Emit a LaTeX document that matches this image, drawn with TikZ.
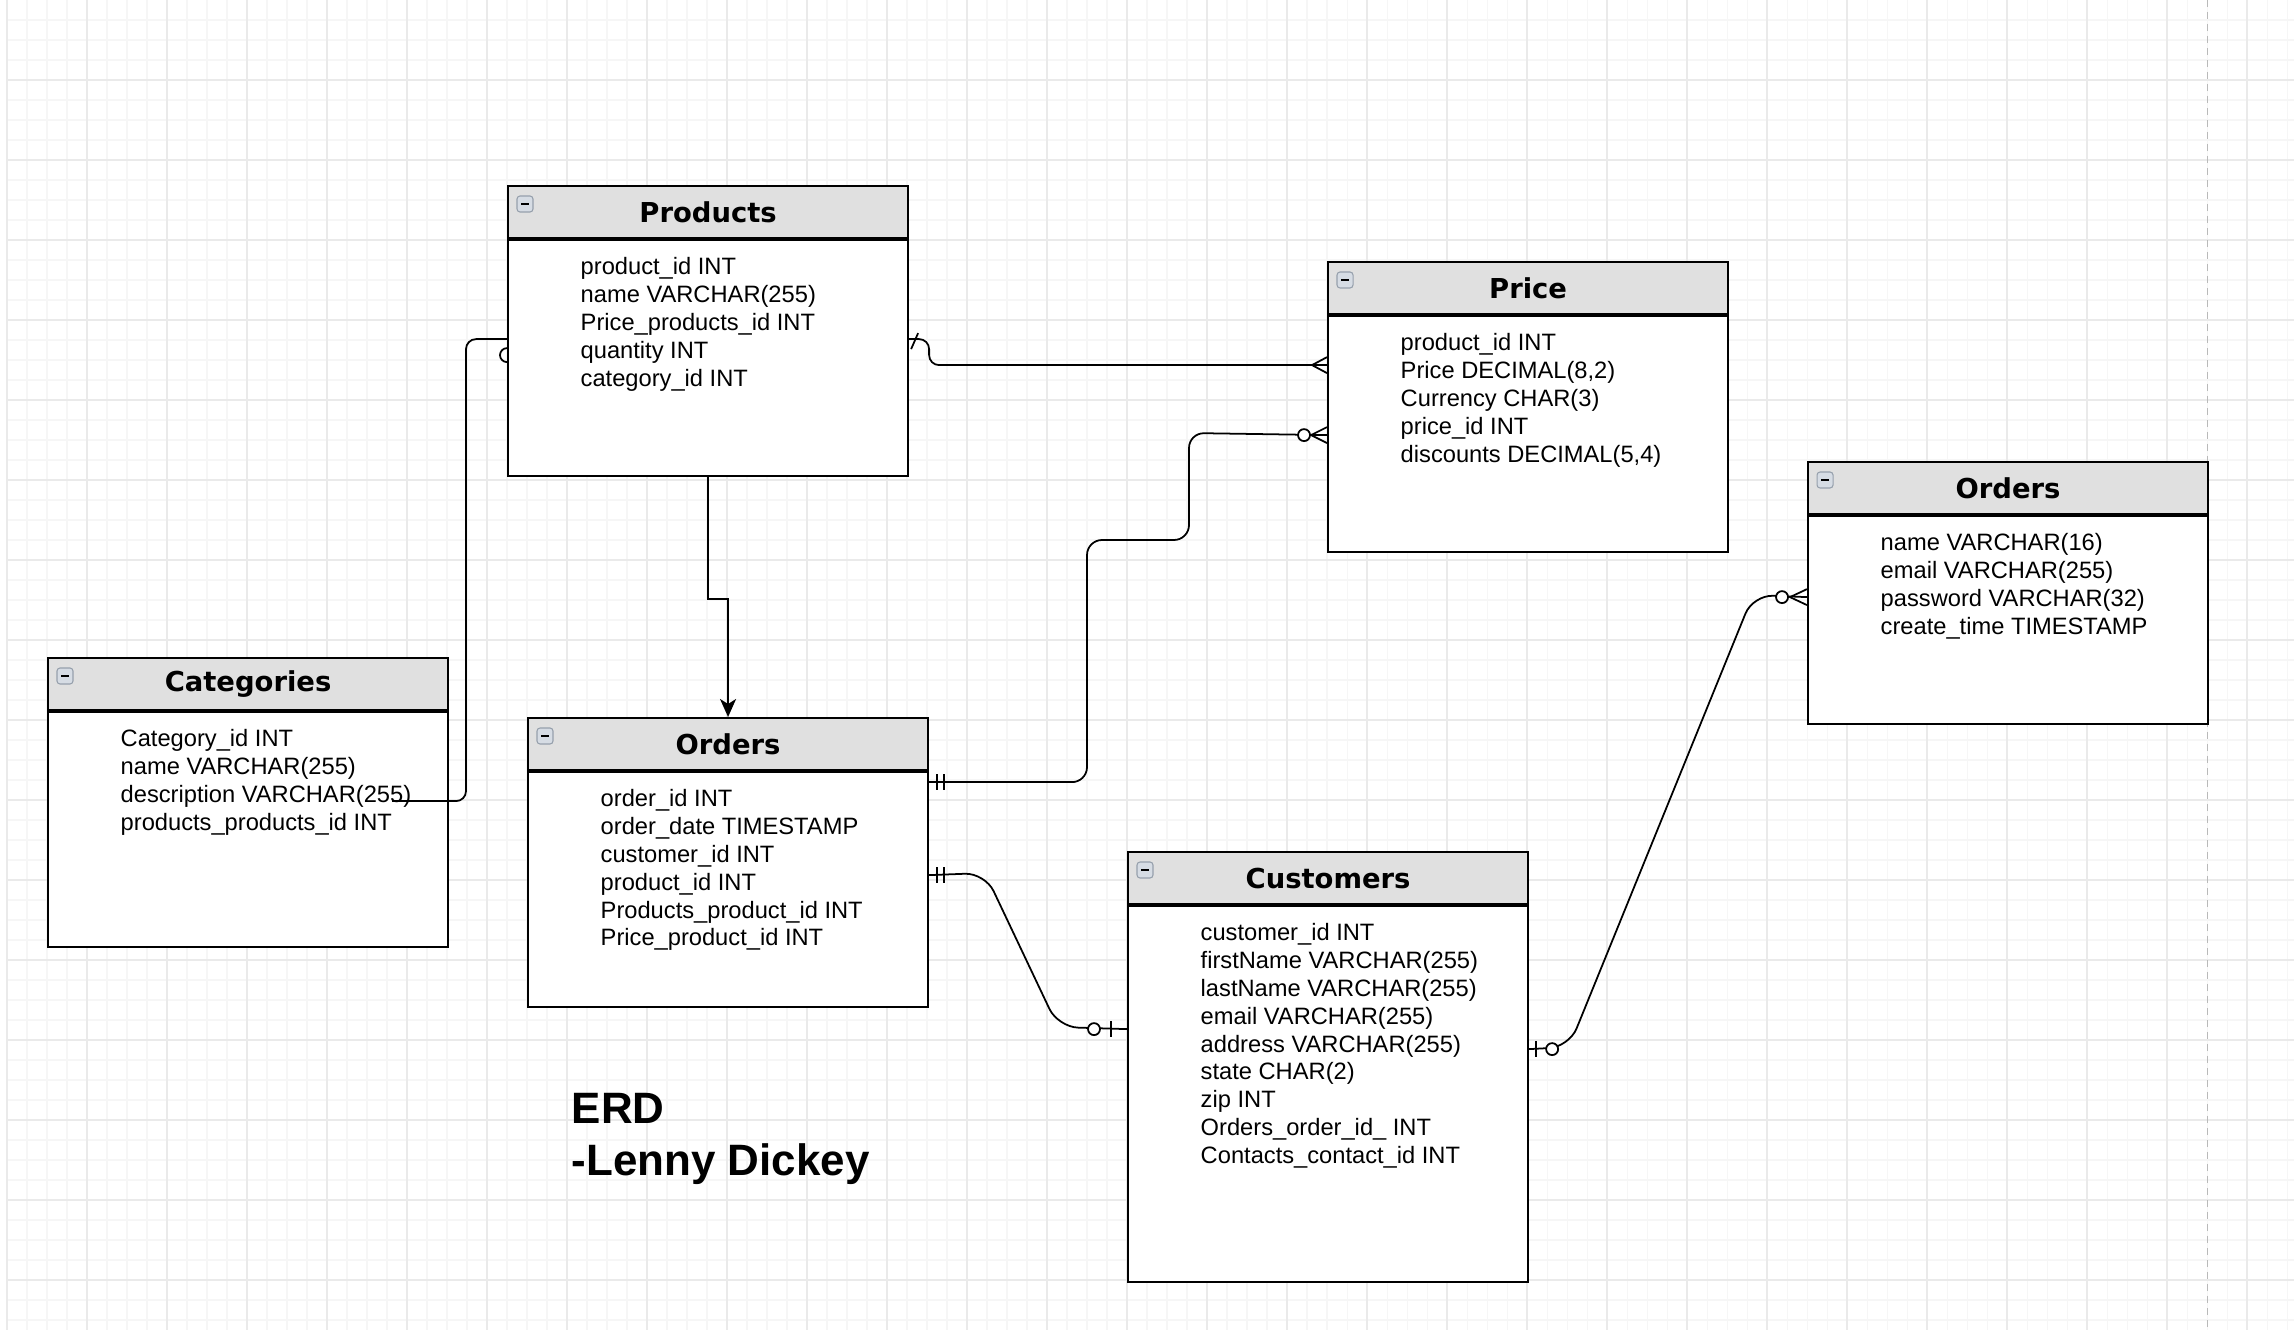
\documentclass[tikz,border=0pt]{standalone}
\usepackage{fontspec}
\setmainfont{Liberation Sans}
\newfontfamily\headfont{DejaVu Sans}
\usetikzlibrary{arrows.meta, positioning, calc}
\usepackage{xcolor}
\definecolor{headGray}{RGB}{224,224,224}
\definecolor{gridMinor}{RGB}{246,246,246}
\definecolor{gridMajor}{RGB}{234,234,234}
\definecolor{pageEdge}{RGB}{185,185,185}
\definecolor{iconFill}{RGB}{214,220,228}
\definecolor{iconLine}{RGB}{150,160,172}

\begin{document}
\begin{tikzpicture}[
    x=0.1mm, y=-0.1mm,
    tblhead/.style={rectangle, draw, line width=0.6pt, fill=headGray, anchor=north west, minimum width=40mm, minimum height=5.2mm, inner sep=0pt, font=\headfont\bfseries\fontsize{7.8}{9}\selectfont},
    tblbody/.style={rectangle, draw, line width=0.6pt, fill=white, minimum width=40mm, inner sep=0pt},
    attr/.style={anchor=north west, align=left, inner sep=0pt, font=\fontsize{6.74}{7.91}\selectfont},
    minusbox/.style={rectangle, draw=iconLine, fill=iconFill, rounded corners=0.3mm, minimum size=1.6mm, inner sep=0pt, line width=0.3pt},
    conn/.style={line width=0.5pt, rounded corners=1mm},
    arrow/.style={-{Stealth[length=1.8mm, width=1.6mm, inset=0.5mm]}, line width=0.55pt},
    endmark/.style={line width=0.5pt}
]
\useasboundingbox (0,0) rectangle (2294,1330);

% Background grid
\fill[white] (0,0) rectangle (2294,1330);
\foreach \gx in {7,27,...,2294} \draw[gridMinor, line width=0.3pt] (\gx,0) -- (\gx,1330);
\foreach \gy in {20,40,...,1330} \draw[gridMinor, line width=0.3pt] (7,\gy) -- (2294,\gy);
\foreach \gx in {7,87,...,2294} \draw[gridMajor, line width=0.4pt] (\gx,0) -- (\gx,1330);
\foreach \gy in {80,160,...,1330} \draw[gridMajor, line width=0.4pt] (7,\gy) -- (2294,\gy);
\draw[pageEdge, dash pattern=on 0.7mm off 0.5mm, line width=0.3pt] (2207,0) -- (2207,1330);

% Products
\node[tblhead] (prod) at (507,185) {Products};
\node[tblbody, minimum height=23.6mm, below=0pt of prod] (prodb) {};
\node[attr] at ($(prod.north west)+(73,72)$) {product\_id INT\\name VARCHAR(255)\\Price\_products\_id INT\\quantity INT\\category\_id INT};

% Price
\node[tblhead] (price) at (1327,261) {Price};
\node[tblbody, minimum height=23.6mm, below=0pt of price] (priceb) {};
\node[attr] at ($(price.north west)+(73,72)$) {product\_id INT\\Price DECIMAL(8,2)\\Currency CHAR(3)\\price\_id INT\\discounts DECIMAL(5,4)};

% Orders (users)
\node[tblhead] (ordr) at (1807,461) {Orders};
\node[tblbody, minimum height=20.8mm, below=0pt of ordr] (ordrb) {};
\node[attr] at ($(ordr.north west)+(73,72)$) {name VARCHAR(16)\\email VARCHAR(255)\\password VARCHAR(32)\\create\_time TIMESTAMP};

% Categories
\node[tblhead] (cat) at (47,657) {Categories};
\node[tblbody, minimum height=23.5mm, below=0pt of cat] (catb) {};
\node[attr] at ($(cat.north west)+(73,72)$) {Category\_id INT\\name VARCHAR(255)\\description VARCHAR(255)\\products\_products\_id INT};

% Orders
\node[tblhead] (ordm) at (527,717) {Orders};
\node[tblbody, minimum height=23.5mm, below=0pt of ordm] (ordmb) {};
\node[attr] at ($(ordm.north west)+(73,72)$) {order\_id INT\\order\_date TIMESTAMP\\customer\_id INT\\product\_id INT\\Products\_product\_id INT\\Price\_product\_id INT};

% Customers
\node[tblhead] (cust) at (1127,851) {Customers};
\node[tblbody, minimum height=37.6mm, below=0pt of cust] (custb) {};
\node[attr] at ($(cust.north west)+(73,72)$) {customer\_id INT\\firstName VARCHAR(255)\\lastName VARCHAR(255)\\email VARCHAR(255)\\address VARCHAR(255)\\state CHAR(2)\\zip INT\\Orders\_order\_id\_ INT\\Contacts\_contact\_id INT};

% Collapse icons
\foreach \t in {prod,price,ordr,cat,ordm,cust}
  \node[minusbox] at ($(\t.north west)+(18,19)$) {\rule{0.8mm}{0.25mm}};

% Categories to Products
\coordinate (catdesc) at ($(catb.north west)+(345,90)$);
\coordinate (prodin) at ($(prodb.north west)+(0,100)$);
\draw[conn] (catdesc) -| ($(prodin)+(-41,0)$) -- (prodin);
\draw[endmark] ($(prodin)+(0,23)$) arc[start angle=90, end angle=270, radius=7];

% Products to Price
\coordinate (prodout) at ($(prodb.north east)+(0,100)$);
\coordinate (pricein1) at ($(priceb.north west)+(0,50)$);
\draw[conn] (prodout) -- ++(20,0) |- (pricein1);
\draw[endmark] ($(prodout)+(2,10)$) -- ($(prodout)+(9,-6)$);
\draw[endmark] ($(pricein1)+(0,-8)$) -- ($(pricein1)+(-15,0)$) -- ($(pricein1)+(0,8)$);

% Orders to Price
\coordinate (ordmout1) at ($(ordmb.north east)+(0,11)$);
\coordinate (pricein2) at ($(priceb.north west)+(0,120)$);
\draw[conn, rounded corners=1.5mm] (ordmout1) -| (1087,540) -| (1189,433) -- (pricein2);
\draw[endmark] ($(ordmout1)+(8,-8)$) -- ++(0,16) ($(ordmout1)+(15,-8)$) -- ++(0,16);
\draw[endmark] ($(pricein2)+(0,-8)$) -- ($(pricein2)+(-16,0)$) -- ($(pricein2)+(0,8)$);
\draw[endmark, fill=white] ($(pricein2)+(-23,0)$) circle[radius=6];

% Orders to Customers
\coordinate (ordmout2) at ($(ordmb.north east)+(0,104)$);
\coordinate (custin) at ($(custb.north west)+(0,124)$);
\draw[conn, rounded corners=2mm] (ordmout2) -- (985,873) -- (1058,1027) -- (custin);
\draw[endmark] ($(ordmout2)+(8,-8)$) -- ++(0,16) ($(ordmout2)+(15,-8)$) -- ++(0,16);
\draw[endmark, fill=white] ($(custin)+(-33,0)$) circle[radius=6];
\draw[endmark] ($(custin)+(-16,-8)$) -- ++(0,16);

% Customers to Orders
\coordinate (custout) at ($(custb.north east)+(0,144)$);
\coordinate (ordrin) at ($(ordrb.north west)+(0,82)$);
\draw[conn, rounded corners=2mm] (custout) -- (1569,1047) -- (1753,595) -- (ordrin);
\draw[endmark] ($(custout)+(7,-8)$) -- ++(0,16);
\draw[endmark, fill=white] ($(custout)+(23,0)$) circle[radius=6];
\draw[endmark] ($(ordrin)+(0,-8)$) -- ($(ordrin)+(-17,0)$) -- ($(ordrin)+(0,8)$);
\draw[endmark, fill=white] ($(ordrin)+(-25,0)$) circle[radius=6];

% Products to Orders
\draw[arrow] (prodb.south) -- ++(0,122) -| (ordm.north);

% Title
\node[anchor=north west, align=left, inner sep=0pt, font=\bfseries\fontsize{12.5}{14.8}\selectfont] (erd) at (571,1093) {ERD\\-Lenny Dickey};

\end{tikzpicture}
\end{document}
